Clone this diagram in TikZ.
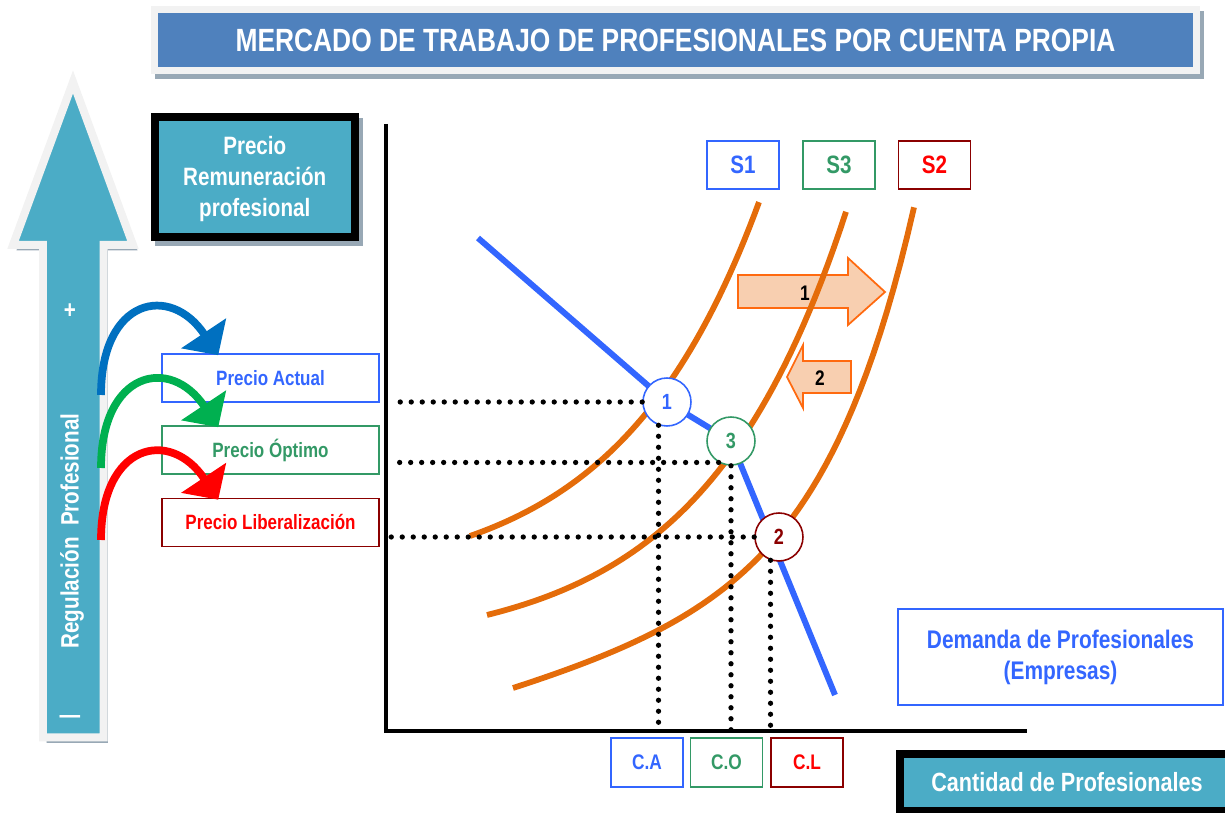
\documentclass[tikz,border=0pt]{standalone}
\usepackage{fontspec}
\setmainfont{Liberation Sans}[FakeStretch=0.82]
\usepackage{tikz}
\usetikzlibrary{arrows.meta, positioning, calc}

\definecolor{titleblue}{HTML}{4F81BD}
\definecolor{framegray}{HTML}{F2F2F2}
\definecolor{shadowgray}{HTML}{98A8B5}
\definecolor{aquacol}{HTML}{4BACC6}
\definecolor{supplyorange}{HTML}{E46C0A}
\definecolor{demandblue}{HTML}{3366FF}
\definecolor{optgreen}{HTML}{339966}
\definecolor{darkred}{HTML}{8B0000}
\definecolor{libred}{HTML}{FF0000}
\definecolor{arrowblue}{HTML}{0070C0}
\definecolor{arrowgreen}{HTML}{00B050}
\definecolor{shiftfill}{HTML}{F8CFB0}
\definecolor{shiftline}{HTML}{FF6A10}

\begin{document}
\begin{tikzpicture}[x=0.02cm, y=-0.02cm,
  shadowed/.style={preaction={draw=shadowgray, fill=shadowgray, transform canvas={shift={(0.08cm,-0.1cm)}}}},
  banner/.style={rectangle, fill=titleblue, draw=framegray, line width=0.14cm, shadowed, text=white, font=\bfseries\fontsize{18.3}{22}\selectfont},
  aquabox/.style={rectangle, fill=aquacol, draw=black, line width=0.16cm, shadowed, text=white, align=center, font=\bfseries\fontsize{14.3}{17.6}\selectfont},
  pricebox/.style={rectangle, draw=#1, line width=0.9pt, minimum width=4.34cm, minimum height=0.96cm, font=\bfseries\fontsize{11.8}{14}\selectfont},
  curvelabel/.style={rectangle, draw=#1, line width=1pt, minimum width=1.44cm, minimum height=0.96cm, font=\bfseries\fontsize{14.3}{17}\selectfont},
  qtybox/.style={rectangle, draw=#1, line width=1pt, minimum width=1.44cm, minimum height=0.98cm, font=\bfseries\fontsize{12}{14}\selectfont},
  eqpoint/.style={circle, draw=#1, text=#1, fill=white, line width=0.9pt, minimum size=0.96cm, inner sep=0pt, font=\bfseries\fontsize{12.5}{14}\selectfont},
  supply/.style={draw=supplyorange, line width=3.3pt, samples=60},
  demand/.style={draw=demandblue, line width=3.4pt},
  dotline/.style={line width=3pt, line cap=round, dash pattern=on 0pt off 6.26pt},
  regarrow/.style={line width=4.4pt, -{Triangle[width=30pt, length=15pt]}},
  shiftarrow/.style={fill=shiftfill, draw=shiftline, line width=1pt},
  shiftlabel/.style={font=\bfseries\fontsize{12}{14}\selectfont}
]
\path[use as bounding box] (0,0) rectangle (1225,813);
\clip (0,0) rectangle (1225,813);

% Title banner
\node[banner, minimum width=20.84cm, minimum height=1.22cm] (title) at (675.5,40) {MERCADO DE TRABAJO DE PROFESIONALES POR CUENTA PROPIA};

% Regulation arrow (left)
\filldraw[fill=aquacol, draw=framegray, line width=0.16cm, shadowed]
  (43,737.5) -- (43,245) -- (13,245) -- (73,82) -- (133,245) -- (103.5,245) -- (103.5,737.5) -- cycle;
\node[text=white, font=\bfseries\fontsize{14.3}{17}\selectfont] (plus) at (70,311) {+};
\node[text=white, font=\bfseries\fontsize{14.3}{17}\selectfont] (minus) at (70,720) {---};
\node[rotate=90, text=white, font=\bfseries\fontsize{14.3}{17}\selectfont] (reglabel) at (72,531) {Regulación\ \ Profesional};

% Axis titles
\node[aquabox, minimum width=4cm, minimum height=2.41cm] (price) at (254.75,177.25) {\rule{0pt}{12pt}Precio\\Remuneración\\profesional};
\node[aquabox, minimum width=6.7cm, minimum height=1.14cm, font=\bfseries\fontsize{15}{17}\selectfont] (qty) at (1067,782.5) {Cantidad de Profesionales};

% Price levels
\node[pricebox=demandblue, text=demandblue] (pa) at (270.5,378) {Precio Actual};
\node[pricebox=optgreen, text=optgreen] (po) at (270.5,450) {Precio Óptimo};
\node[pricebox=darkred, text=libred] (pl) at (270.5,522.5) {Precio Liberalización};

% Curved arrows from the regulation arrow
\coordinate (ra) at (101,395);
\coordinate (rb) at (101,468);
\coordinate (rc) at (101,540);
\foreach \s/\b/\c in {ra/pa/arrowblue, rb/po/arrowgreen, rc/pl/libred} {
  \draw[regarrow, \c] (\s) .. controls +(0,-97) and +(-48,-72) .. ($(\b.north west)+(57,2)$);
}

% Axes
\coordinate (origin) at (386,731);
\coordinate (dotstart) at (391,731);
\draw[line width=2.3pt] (386,124) -- (origin) -- (1027,731);

% Supply shifts
\filldraw[shiftarrow] (738,275) -- (848,275) -- (848,258) -- (885,292) -- (848,325) -- (848,308) -- (738,308) -- cycle;
\node[shiftlabel] (shift1) at (805,293) {1};
\filldraw[shiftarrow] (851,361) -- (803,361) -- (803,345) -- (787,377) -- (803,408) -- (803,393) -- (851,393) -- cycle;
\node[shiftlabel] (shift2) at (820,378) {2};

% Supply curves S1, S3, S2
\draw[supply] plot[domain=470:759] (\x, {536-49.3*(exp(0.0071*(\x-470))-1)});
\draw[supply] plot[domain=487:846] (\x, {615-35.5*(exp(0.007*(\x-487))-1)});
\draw[supply] plot[domain=513:914] (\x, {688-0.274*(\x-513)-4.555*(exp(0.011*(\x-513))-1)});

% Demand
\coordinate (e1) at (667,402);
\coordinate (e3) at (731,441);
\coordinate (e2) at (779,537);
\coordinate (dtop) at (478,238);
\coordinate (dbot) at (835,695);
\draw[demand] (dtop) -- (e1) -- (e3) -- (dbot);

% Curve labels
\node[curvelabel=demandblue, text=demandblue] (s1) at (743,165) {S1};
\node[curvelabel=optgreen, text=optgreen] (s3) at (839,165) {S3};
\node[curvelabel=darkred, text=libred] (s2) at (934.5,165) {S2};
\node[draw=demandblue, line width=1pt, minimum width=6.5cm, minimum height=1.92cm, align=center, text=demandblue, font=\bfseries\fontsize{14.5}{17.6}\selectfont] (dem) at (1060.5,657) {Demanda de Profesionales\\(Empresas)};

% Equilibrium points
\node[eqpoint=demandblue] (c1) at (e1) {1};
\node[eqpoint=optgreen] (c3) at (e3) {3};
\node[eqpoint=darkred] (c2) at (e2) {2};

% Dotted guides
\draw[dotline] (c1.west) -- (c1.west -| dotstart);
\draw[dotline] (c3.240) -- (c3.240 -| dotstart);
\draw[dotline] (c2.west) -- (c2.west -| dotstart);
\draw[dotline] (c1.250) -- (c1.250 |- origin);
\draw[dotline] (c3.south) -- (c3.south |- origin);
\draw[dotline] (c2.250) -- (c2.250 |- origin);

% Quantities
\node[qtybox=demandblue, text=demandblue] (ca) at (647,762.5) {C.A};
\node[qtybox=optgreen, text=optgreen] (co) at (726.5,762.5) {C.O};
\node[qtybox=darkred, text=libred] (cl) at (807,762.5) {C.L};
\end{tikzpicture}
\end{document}
